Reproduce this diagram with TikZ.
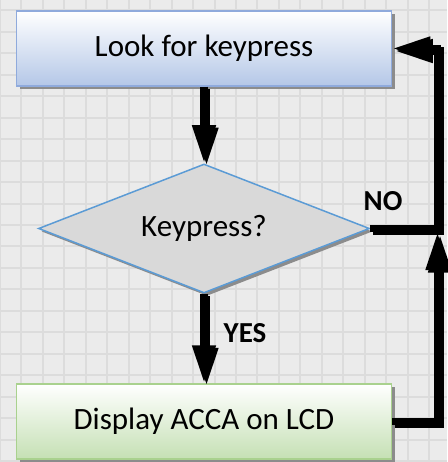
\documentclass[tikz,border=0pt]{standalone}
\usepackage{fontspec}
\setmainfont{Carlito}
\usetikzlibrary{arrows.meta,shapes.geometric,shadows}
\definecolor{paper}{HTML}{EBEBEB}
\definecolor{gridgray}{HTML}{DCDCDC}
\definecolor{lookblue}{HTML}{B4C7E7}
\definecolor{lookedge}{HTML}{8FAADC}
\definecolor{dispgreen}{HTML}{C5E0B4}
\definecolor{dispedge}{HTML}{A9D18E}
\definecolor{decfill}{HTML}{D9D9D9}
\definecolor{decedge}{HTML}{5B9BD5}
\definecolor{shade}{HTML}{8C8C8C}
\tikzset{
  bigtext/.style   = {font=\fontsize{31}{36}\selectfont},
  boxshadow/.style = {drop shadow={shadow xshift=3pt, shadow yshift=-3pt, fill=shade, opacity=1}},
  procbox/.style   = {rectangle, bigtext, minimum width=375pt, minimum height=75pt, line width=1.5pt, boxshadow},
  decision/.style  = {diamond, bigtext, minimum width=331pt, minimum height=129pt, aspect=2.57,
                      inner sep=0pt, draw=decedge, fill=decfill, line width=1.5pt, boxshadow},
  flow/.style      = {line width=7.5pt, -{Triangle[length=38pt,width=22pt]}},
  answer/.style    = {font=\fontsize{29}{34}\selectfont\bfseries},
  gridline/.style  = {gridgray, line width=2pt}
}

\begin{document}
\begin{tikzpicture}[x=1pt,y=-1pt]
  \useasboundingbox (0,0) rectangle (447,462);
  % --- grid paper
  \fill[paper] (0,0) rectangle (447,462);
  \foreach \gx in {0,21.45,...,447} \draw[gridline] (\gx,0) -- (\gx,462);
  \foreach \gy in {10.5,31.95,...,462} \draw[gridline] (0,\gy) -- (447,\gy);
  % --- steps
  \node[procbox, draw=lookedge, top color=white, bottom color=lookblue] (look) at (204,48.5) {Look for keypress};
  \node[decision] (key) at (204,228.5) {Keypress?};
  \node[procbox, draw=dispedge, top color=white, bottom color=dispgreen] (disp) at (204,421.5) {Display ACCA on LCD};
  \node[answer] (no) at (383,201) {NO};
  \node[answer] (yes) at (245,333) {YES};
  % loop corners on the right
  \coordinate (jn) at (437.5,228.5);
  \coordinate (jnb) at (437.5,232);
  % --- connectors, shadow first
  \foreach \off/\ink in {2.5pt/shade, 0pt/black}{
    \begin{scope}[transform canvas={shift={(\off,-\off)}}, \ink]
      \draw[flow] (look.south) -- (key.north);
      \draw[flow] (key.south) -- (disp.north);
      \draw[flow] (key.east) -- (jn) |- (look.east);
      \draw[flow] (disp.east) -| (jnb);
    \end{scope}
  }
\end{tikzpicture}
\end{document}
